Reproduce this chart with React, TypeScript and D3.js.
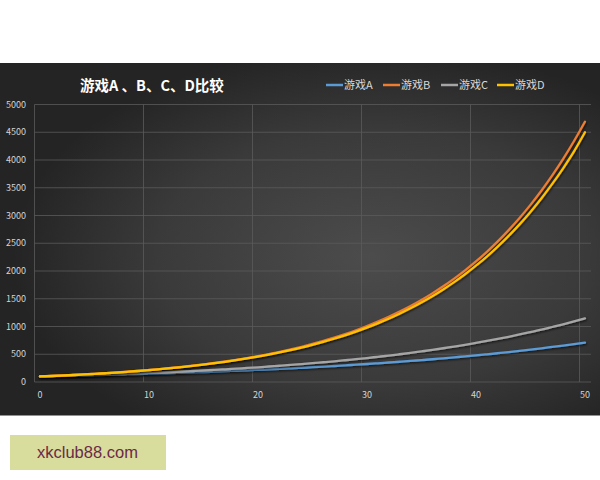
import React from "react";
import * as d3 from "d3";

const categories: number[] = d3.range(0, 51);
const seriesNames = ["游戏A", "游戏B", "游戏C", "游戏D"];
const seriesColors = ["#5b9bd5", "#ed7d31", "#a5a5a5", "#ffc000"];

const gameA = [100,104,108,112,117,122,127,132,137,142,148,154,160,167,173,180,187,195,203,211,219,228,237,246,256,267,277,288,300,312,324,337,351,365,379,395,410,427,444,462,480,499,519,540,562,584,607,632,657,683,711];
const gameB = [100,108,117,126,136,147,159,171,185,200,216,233,252,272,294,317,343,370,400,432,466,503,544,587,634,685,740,799,863,932,1006,1087,1174,1268,1369,1479,1597,1725,1863,2012,2172,2346,2534,2737,2956,3192,3447,3723,4021,4343,4690];
const gameC = [100,105,110,116,122,128,134,141,148,155,163,171,180,189,198,208,218,229,241,253,265,279,293,307,323,339,356,373,392,412,432,454,476,500,525,552,579,608,639,670,704,739,776,815,856,899,943,991,1040,1092,1147];
const gameD = [100,108,116,126,136,146,158,170,184,198,214,231,249,269,290,313,338,364,393,424,458,494,533,575,620,669,722,779,841,907,979,1056,1139,1230,1327,1432,1545,1667,1799,1941,2095,2260,2439,2632,2840,3065,3307,3569,3851,4156,4500];

const yTicks = [0,500,1000,1500,2000,2500,3000,3500,4000,4500,5000];
const xTicks = [0,10,20,30,40,50];
const title = "游戏A 、B、C、D比较";
const watermark = "xkclub88.com";

const seriesData = [gameA, gameB, gameC, gameD];

export default function App() {
  const W = 600, H = 480;
  const x = d3.scaleLinear().domain([-0.5, 50.5]).range([34.5, 590.4]);
  const y = d3.scaleLinear().domain([0, 5000]).range([382, 104.5]);
  const line = d3.line<number>()
    .x((_, i) => x(categories[i]))
    .y((d) => y(d))
    .curve(d3.curveMonotoneX);
  const font = "'Noto Sans CJK SC', 'Noto Sans', sans-serif";
  const legendPos = [326, 383, 441, 497];
  // draw order: A, C, B, D (D on top like reference)
  const order = [0, 2, 1, 3];
  return (
    <svg width={W} height={H} style={{ position: "absolute", left: 0, top: 0 }}>
      <defs>
        <radialGradient id="bg" cx="0.62" cy="0.55" r="0.6">
          <stop offset="0" stopColor="#4c4c4c" />
          <stop offset="0.6" stopColor="#3a3a3a" />
          <stop offset="1" stopColor="#242424" />
        </radialGradient>
        <filter id="sh" x="-5%" y="-5%" width="110%" height="110%">
          <feDropShadow dx="0.8" dy="1.2" stdDeviation="0.8" floodColor="#000" floodOpacity="0.7" />
        </filter>
      </defs>
      <rect x={0} y={0} width={W} height={H} fill="#ffffff" />
      <rect x={0} y={63} width={W} height={352.5} fill="url(#bg)" />
      {/* gridlines */}
      {yTicks.map((t) => (
        <line key={"gy" + t} x1={34.5} x2={591} y1={y(t)} y2={y(t)} stroke="#5a5a5a" strokeWidth={0.8} />
      ))}
      {xTicks.map((t) => (
        <line key={"gx" + t} x1={x(t - 0.5)} x2={x(t - 0.5)} y1={y(5000)} y2={y(0)} stroke="#5a5a5a" strokeWidth={0.8} />
      ))}
      {/* axis labels */}
      {yTicks.map((t) => (
        <text key={"ly" + t} x={26} y={y(t) + 3.2} textAnchor="end" fontSize={9} fill="#d4d4d4" fontFamily={font}>{t}</text>
      ))}
      {xTicks.map((t) => (
        <text key={"lx" + t} x={x(t)} y={398} textAnchor="middle" fontSize={9} fill="#d4d4d4" fontFamily={font}>{t}</text>
      ))}
      {/* series */}
      {order.map((si) => (
        <path key={"s" + si} d={line(seriesData[si]) || ""} fill="none" stroke={seriesColors[si]} strokeWidth={2.3} strokeLinecap="round" filter="url(#sh)" />
      ))}
      {/* title */}
      <text x={80} y={91} fontSize={14.5} fontWeight="bold" fill="#ffffff" fontFamily={font}>{title}</text>
      {/* legend */}
      {seriesNames.map((n, i) => (
        <g key={"lg" + n}>
          <line x1={legendPos[i]} x2={legendPos[i] + 17} y1={85} y2={85} stroke={seriesColors[i]} strokeWidth={2.5} />
          <text x={legendPos[i] + 18} y={89} fontSize={11} fill="#d9d9d9" fontFamily={font}>{n}</text>
        </g>
      ))}
      {/* watermark */}
      <rect x={10} y={435} width={156} height={35} fill="#d8dc9c" />
      <text x={37} y={457.5} fontSize={16.5} fill="#6b2a48" fontFamily="'Liberation Sans', Arial, sans-serif">{watermark}</text>
    </svg>
  );
}
